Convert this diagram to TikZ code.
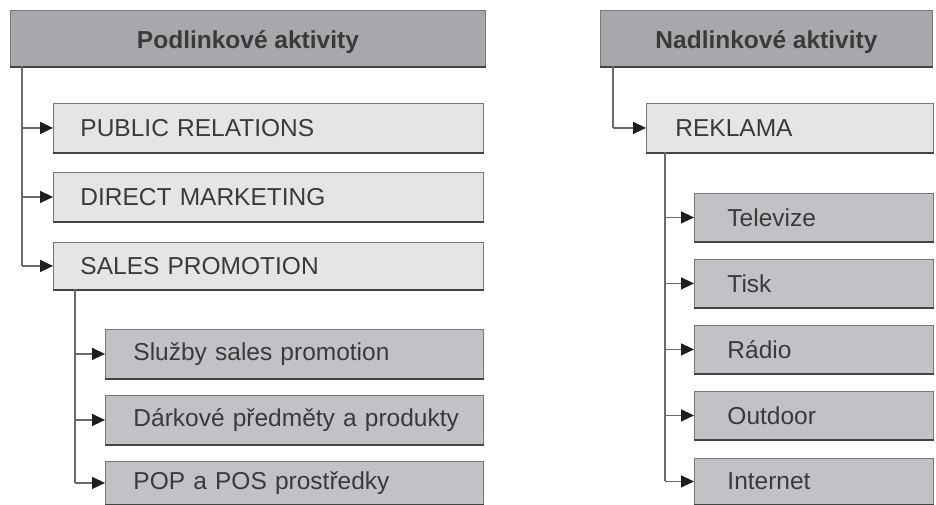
\documentclass[tikz,border=0pt]{standalone}
\usepackage{fontspec}
\setmainfont{Liberation Sans}
\usetikzlibrary{arrows.meta}
\definecolor{hdrfill}{HTML}{A8A8AC}
\definecolor{subfill}{HTML}{C2C2C6}
\definecolor{lightfill}{HTML}{E5E5E5}
\definecolor{edge}{HTML}{777777}
\definecolor{edgedark}{HTML}{444444}
\definecolor{txt}{HTML}{3A3A3A}
\definecolor{conncol}{HTML}{6A6A6A}
\definecolor{tipcol}{HTML}{1E1E1E}
\tikzset{
  basebox/.style={rectangle, anchor=north west, draw=edge, line width=0.9pt,
    font=\fontsize{24.5}{28}\selectfont, text=txt, inner ysep=0pt},
  hdrbox/.style={basebox, fill=hdrfill, font=\fontsize{24.5}{28}\selectfont\bfseries, align=center, text height=22pt, text depth=2pt},
  lightbox/.style={basebox, fill=lightfill, align=left, inner xsep=0pt},
  subbox/.style={basebox, fill=subfill, align=left, inner xsep=0pt},
  botline/.style={draw=edgedark, line width=1.6pt},
  conn/.style={draw=conncol, line width=1.4pt},
  arr/.style={conn, -{Triangle[length=13pt,width=12pt,color=tipcol]}},
}
\begin{document}
\begin{tikzpicture}[x=1pt,y=-1pt]
\useasboundingbox[fill=white] (0,0) rectangle (936,505);
% left column
\node[hdrbox, minimum width=475pt, minimum height=56pt] (hdrL) at (10,10) {Podlinkové aktivity};
\node[lightbox, minimum width=430pt, minimum height=49pt, text width=376pt] (pr) at (53,103) {\mbox{PUBLIC RELATIONS}};
\node[lightbox, minimum width=430pt, minimum height=49pt, text width=376pt] (dm) at (53,172) {\mbox{DIRECT MARKETING}};
\node[lightbox, minimum width=430pt, minimum height=47pt, text width=376pt] (sp) at (53,242) {\mbox{SALES PROMOTION}};
\node[subbox, minimum width=378pt, minimum height=49pt, text width=322pt] (sl) at (105,329) {\mbox{Služby sales promotion}};
\node[subbox, minimum width=378pt, minimum height=49pt, text width=322pt] (da) at (105,395) {\mbox{Dárkové předměty a produkty}};
\node[subbox, minimum width=378pt, minimum height=43pt, text width=322pt] (pop) at (105,461) {\mbox{POP a POS prostředky}};
% right column
\node[hdrbox, minimum width=332pt, minimum height=56pt] (hdrR) at (600,10) {Nadlinkové aktivity};
\node[lightbox, minimum width=287pt, minimum height=49pt, text width=229pt] (rek) at (646,103) {\mbox{REKLAMA}};
\node[subbox, minimum width=239pt, minimum height=48pt, text width=173pt] (tv) at (694,193) {\mbox{Televize}};
\node[subbox, minimum width=239pt, minimum height=48pt, text width=173pt] (ti) at (694,259) {\mbox{Tisk}};
\node[subbox, minimum width=239pt, minimum height=48pt, text width=173pt] (ra) at (694,325) {\mbox{Rádio}};
\node[subbox, minimum width=239pt, minimum height=48pt, text width=173pt] (ou) at (694,391) {\mbox{Outdoor}};
\node[subbox, minimum width=239pt, minimum height=46pt, text width=173pt] (in) at (694,458) {\mbox{Internet}};
\foreach \n in {hdrL,pr,dm,sp,sl,da,pop,hdrR,rek,tv,ti,ra,ou,in}
  \draw[botline] (\n.south west) -- (\n.south east);
% connectors left
\coordinate (vL) at (22,66);
\draw[conn] (vL) -- (vL |- sp.west);
\foreach \n in {pr,dm,sp} \draw[arr] (vL |- \n.west) -- (\n.west);
\coordinate (vS) at (75,289);
\draw[conn] (vS) -- (vS |- pop.west);
\foreach \n in {sl,da,pop} \draw[arr] (vS |- \n.west) -- (\n.west);
% connectors right
\coordinate (vR) at (613,66);
\draw[conn] (vR) -- (vR |- rek.west);
\draw[arr] (vR |- rek.west) -- (rek.west);
\coordinate (vK) at (665,152);
\draw[conn] (vK) -- (vK |- in.west);
\foreach \n in {tv,ti,ra,ou,in} \draw[arr] (vK |- \n.west) -- (\n.west);
\end{tikzpicture}
\end{document}
